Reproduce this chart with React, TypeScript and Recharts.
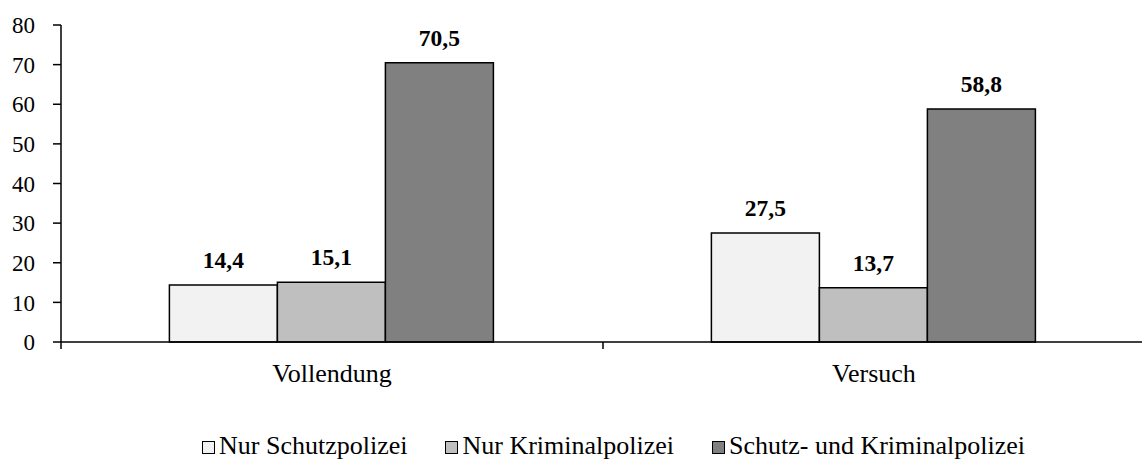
import React from 'react';
import { BarChart, Bar, XAxis, YAxis, LabelList } from 'recharts';

const categories = ['Vollendung', 'Versuch'];
const nurSchutz = [14.4, 27.5];
const nurKripo = [15.1, 13.7];
const beide = [70.5, 58.8];
const yTicks = [0, 10, 20, 30, 40, 50, 60, 70, 80];

const series = [
  { key: 'schutz', name: 'Nur Schutzpolizei', color: '#f2f2f2' },
  { key: 'kripo', name: 'Nur Kriminalpolizei', color: '#bfbfbf' },
  { key: 'beide', name: 'Schutz- und Kriminalpolizei', color: '#808080' },
];

const data = categories.map((c, i) => ({
  name: c,
  schutz: nurSchutz[i],
  kripo: nurKripo[i],
  beide: beide[i],
}));

const FONT = 'Liberation Serif';
const HALF_BAND = 271;

const fmt = (v: number) => v.toFixed(1).replace('.', ',');

const CategoryTick = (props: any) => {
  const { x, y, payload, index, visibleTicksCount } = props;
  return (
    <g>
      <line x1={x - HALF_BAND} y1={y} x2={x - HALF_BAND} y2={y + 7} stroke="#000" strokeWidth={1.5} />
      {index === visibleTicksCount - 1 && (
        <line x1={x + HALF_BAND} y1={y} x2={x + HALF_BAND} y2={y + 7} stroke="#000" strokeWidth={1.5} />
      )}
      <text x={x} y={y + 40} textAnchor="middle" style={{ fontFamily: FONT, fontSize: 26 }} fill="#000">
        {payload.value}
      </text>
    </g>
  );
};

const ChartLegend = () => (
  <div
    style={{
      position: 'absolute',
      left: 202,
      top: 433,
      whiteSpace: 'nowrap',
      fontFamily: FONT,
      fontSize: 26,
      lineHeight: '26px',
      color: '#000',
    }}
  >
    {series.map((s, i) => (
      <span key={s.key} style={{ marginLeft: i === 0 ? 0 : 38 }}>
        <span
          style={{
            display: 'inline-block',
            width: 11,
            height: 11,
            background: s.color,
            border: '1px solid #000',
            marginRight: 4,
            verticalAlign: 'baseline',
          }}
        />
        {s.name}
      </span>
    ))}
  </div>
);

export default function App() {
  return (
    <div style={{ position: 'absolute', left: 0, top: 0, width: 1142, height: 461, overflow: 'hidden', background: '#fff', fontFamily: FONT }}>
      <BarChart
        width={1150}
        height={461}
        data={data}
        margin={{ top: 25, right: 5, left: 0, bottom: 89 }}
        barGap={0}
        barCategoryGap="20%"
      >
        <YAxis
          width={61}
          domain={[0, 80]}
          ticks={yTicks}
          interval={0}
          axisLine={{ stroke: '#000', strokeWidth: 1.5 }}
          tickLine={{ stroke: '#000', strokeWidth: 1.5 }}
          tickSize={8}
          tickMargin={18}
          tick={{ fontFamily: FONT, fontSize: 23, fill: '#000' }}
        />
        <XAxis
          dataKey="name"
          height={30}
          axisLine={{ stroke: '#000', strokeWidth: 1.5 }}
          tickLine={false}
          tickSize={0}
          tickMargin={0}
          tick={<CategoryTick />}
          interval={0}
        />
        {series.map((s) => (
          <Bar
            key={s.key}
            dataKey={s.key}
            name={s.name}
            fill={s.color}
            stroke="#000"
            strokeWidth={1.5}
            isAnimationActive={false}
          >
            <LabelList
              dataKey={s.key}
              position="top"
              offset={17}
              formatter={(v: any) => fmt(Number(v))}
              style={{ fontFamily: FONT, fontSize: 23.5, fontWeight: 'bold', fill: '#000' }}
            />
          </Bar>
        ))}
      </BarChart>
      <ChartLegend />
    </div>
  );
}
